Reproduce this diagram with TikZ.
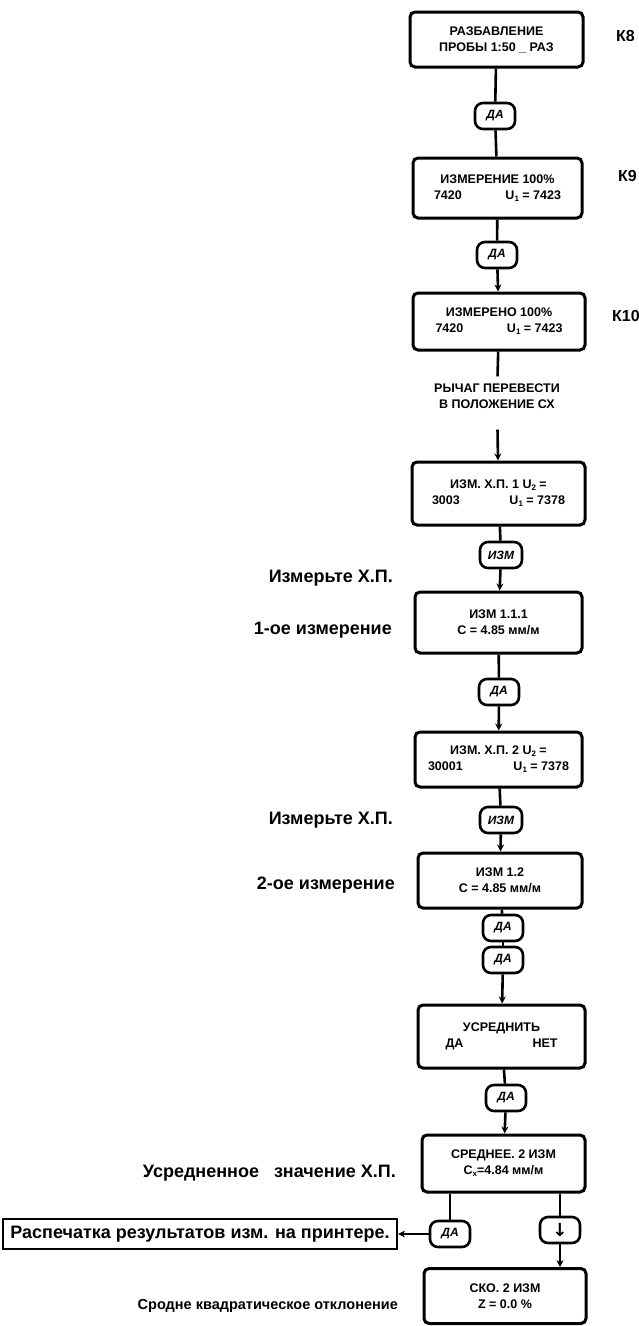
\documentclass[tikz,border=0pt]{standalone}
\usepackage{fontspec}
\setmainfont{Liberation Sans}
\newfontfamily\dejavu{DejaVu Sans}
\usetikzlibrary{arrows.meta}
\newcommand{\mysub}[1]{\raisebox{-0.3ex}{\fontsize{8}{8}\selectfont #1}}
\tikzset{
 box/.style={draw, line width=3pt, rounded corners=5pt, inner sep=0pt, align=center,
   font=\fontsize{12.5}{16}\selectfont\bfseries},
 oval/.style={draw, line width=2.6pt, rounded corners=8pt, minimum width=40pt, minimum height=26pt,
   inner sep=0pt, font=\fontsize{12}{13}\selectfont\bfseries\itshape},
 note/.style={inner xsep=0pt, inner ysep=7pt, align=center, font=\fontsize{12.5}{16}\selectfont\bfseries},
 lbl/.style={inner sep=0pt, font=\fontsize{18}{20}\selectfont\bfseries},
 klbl/.style={inner sep=0pt, font=\fontsize{16}{18}\selectfont\bfseries},
 prbox/.style={draw, line width=2.2pt, inner sep=0pt, minimum width=394pt, minimum height=30pt,
   font=\fontsize{18}{20}\selectfont\bfseries},
 conn/.style={line width=2.6pt},
 arr/.style={conn, -{Stealth[length=7pt,width=7pt]}},
}
\begin{document}
\begin{tikzpicture}[x=1pt,y=-1pt]
\useasboundingbox (0,0) rectangle (639,1326);
% main chain
\node[box, minimum width=173pt, minimum height=55pt] (b1) at (496.5,39.5) {РАЗБАВЛЕНИЕ\\ПРОБЫ 1:50 \_ РАЗ};
\node[klbl, anchor=west] (k8) at (616,36) {К8};
\node[oval] (o1) at (495,116) {ДА};
\node[box, minimum width=169pt, minimum height=60pt] (b2) at (497.5,188) {ИЗМЕРЕНИЕ 100\%\\\makebox[127pt]{7420\hfill U\mysub{1} = 7423}};
\node[klbl, anchor=west] (k9) at (618,176) {К9};
\node[oval] (o2) at (497,255) {ДА};
\node[box, minimum width=172pt, minimum height=57pt] (b3) at (499,321.5) {ИЗМЕРЕНО 100\%\\\makebox[127pt]{7420\hfill U\mysub{1} = 7423}};
\node[klbl, anchor=west] (k10) at (612,316) {К10};
\node[note] (t1) at (497,396) {РЫЧАГ ПЕРЕВЕСТИ\\В ПОЛОЖЕНИЕ СХ};
\node[box, minimum width=173pt, minimum height=63pt] (b4) at (498.5,493.5) {ИЗМ. Х.П. 1 U\mysub{2} =\\\makebox[133pt]{3003\hfill U\mysub{1} = 7378}};
\node[oval, minimum width=42pt] (o3) at (501,555) {ИЗМ};
\node[box, minimum width=167pt, minimum height=61pt] (b5) at (498.5,622.5) {ИЗМ 1.1.1\\C = 4.85 мм/м};
\node[oval] (o4) at (499,692) {ДА};
\node[box, minimum width=167pt, minimum height=55pt] (b6) at (498.5,759.5) {ИЗМ. Х.П. 2 U\mysub{2} =\\\makebox[141pt]{30001\hfill U\mysub{1} = 7378}};
\node[oval, minimum width=42pt] (o5) at (501,820) {ИЗМ};
\node[box, minimum width=164pt, minimum height=55pt] (b7) at (500,880.5) {ИЗМ 1.2\\C = 4.85 мм/м};
\node[oval] (o6) at (503,928) {ДА};
\node[oval] (o7) at (503,960) {ДА};
\node[box, minimum width=167pt, minimum height=63pt] (b8) at (501.5,1036.5) {УСРЕДНИТЬ\\\makebox[112pt]{ДА\hfill НЕТ}};
\node[oval] (o8) at (506,1098) {ДА};
\node[box, minimum width=163pt, minimum height=57pt] (b9) at (503.5,1163.5) {СРЕДНЕЕ. 2 ИЗМ\\C\mysub{x}=4.84 мм/м};
\node[oval] (o9) at (450,1234) {ДА};
\node[oval] (o10) at (560,1230) {\dejavu\bfseries\upshape\fontsize{18}{18}\selectfont ↓};
\node[box, minimum width=162pt, minimum height=55pt] (b10) at (505,1296) {СКО. 2 ИЗМ\\Z = 0.0 \%};
\node[prbox] (pr) at (200,1234) {Распечатка результатов изм. на принтере.};
% left labels
\node[lbl, anchor=east] (l1) at (393,578) {Измерьте Х.П.};
\node[lbl, anchor=east] (l2) at (392,630) {1-ое измерение};
\node[lbl, anchor=east] (l3) at (393,820) {Измерьте Х.П.};
\node[lbl, anchor=east] (l4) at (395,885) {2-ое измерение};
\node[lbl, anchor=east] (l5) at (396,1173) {Усредненное\ \ \ значение Х.П.};
\node[lbl, anchor=east, font=\fontsize{14.5}{16}\selectfont\bfseries] (l6) at (398,1306) {Сродне квадратическое отклонение};
% connectors
\draw[conn] (b1) -- (o1);
\draw[conn] (o1) -- (b2);
\draw[conn] (b2) -- (o2);
\draw[arr] (o2) -- (b3);
\draw[conn] (b3) -- (t1);
\draw[arr, shorten <=14pt] (t1) -- (b4);
\draw[conn] (b4) -- (o3);
\draw[arr] (o3) -- (b5);
\draw[conn] (b5) -- (o4);
\draw[arr] (o4) -- (b6);
\draw[conn] (b6) -- (o5);
\draw[arr] (o5) -- (b7);
\draw[conn] (b7) -- (o6);
\draw[conn] (o6) -- (o7);
\draw[arr] (o7) -- (b8);
\draw[conn] (b8) -- (o8);
\draw[arr] (o8) -- (b9);
\draw[conn] (b9.south -| o9) -- (o9);
\draw[arr] (o9) -- (pr);
\draw[conn] (b9.south -| o10) -- (o10);
\draw[arr] (o10) -- (o10 |- b10.north);
\end{tikzpicture}
\end{document}
